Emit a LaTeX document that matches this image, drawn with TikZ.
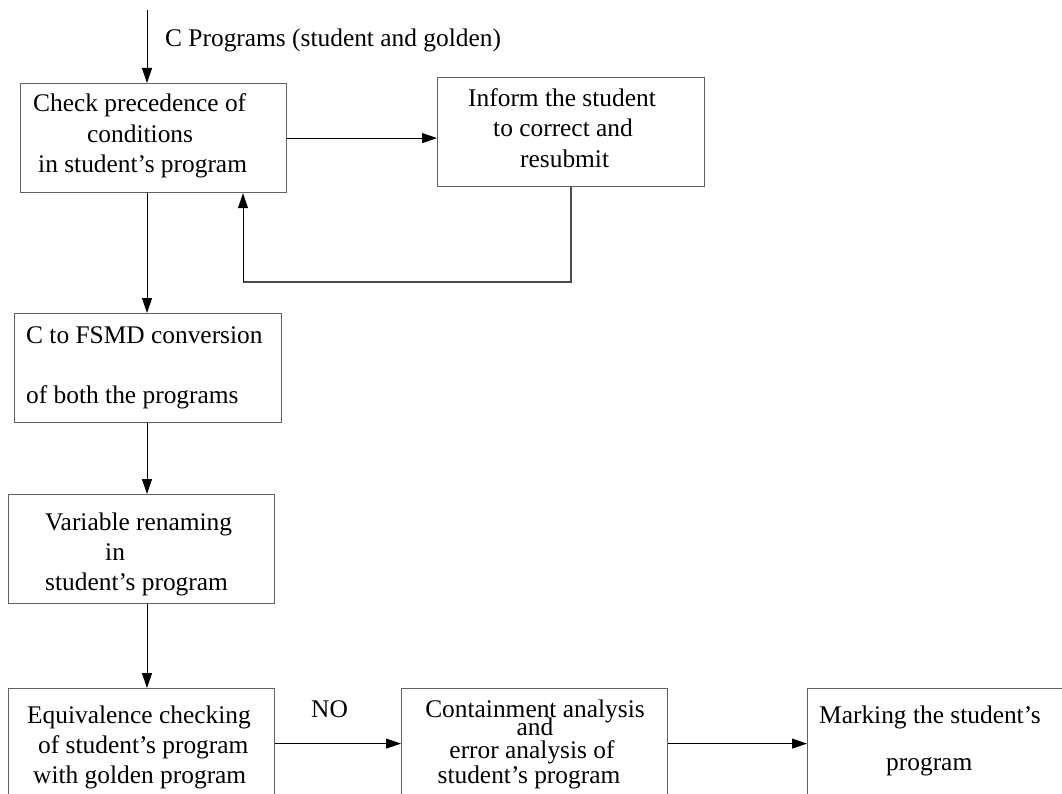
\documentclass[tikz,border=0pt]{standalone}
\usepackage{fontspec}
\setmainfont{Liberation Serif}
\usetikzlibrary{arrows.meta}
\begin{document}
\begin{tikzpicture}[x=1pt,y=-1pt,
  stage/.style={draw=black!62, line width=1.2pt, inner sep=0pt, anchor=north west},
  txt/.style={anchor=base west, inner sep=0pt, font=\fontsize{25.4}{31}\selectfont},
  arr/.style={draw=black, line width=1pt, -{Triangle[length=15pt,width=10pt]}},
  link/.style={draw=black!70, line width=1.1pt}]
\path[use as bounding box] (0,0) rectangle (1062,794);
\clip (0,0) rectangle (1062,794);

% process boxes
\node[stage, minimum width=266pt, minimum height=109pt] (check) at (20,83) {};
\node[stage, minimum width=267pt, minimum height=109pt] (inform) at (437,77) {};
\node[stage, minimum width=267pt, minimum height=109pt] (conv) at (14,313) {};
\node[stage, minimum width=266pt, minimum height=109pt] (rename) at (8,494) {};
\node[stage, minimum width=266pt, minimum height=110pt] (equiv) at (8,688) {};
\node[stage, minimum width=266pt, minimum height=110pt] (contain) at (401,688) {};
\node[stage, minimum width=300pt, minimum height=110pt] (mark) at (807,688) {};

% box texts
\node[txt] (t1a) at (33,112) {Check precedence of};
\node[txt] (t1b) at (87,143) {conditions};
\node[txt] (t1c) at (38,173) {in student’s program};

\node[txt] (t2a) at (468,107) {Inform the student};
\node[txt] (t2b) at (493,137) {to correct and};
\node[txt] (t2c) at (520,168) {resubmit};

\node[txt] (t3a) at (26,343) {C to FSMD conversion};
\node[txt] (t3b) at (26,403) {of both the programs};

\node[txt] (t4a) at (45,530) {Variable renaming};
\node[txt] (t4b) at (105,560) {in};
\node[txt] (t4c) at (45,590) {student’s program};

\node[txt] (t5a) at (27,723) {Equivalence checking};
\node[txt] (t5b) at (38,753) {of student’s program};
\node[txt] (t5c) at (33,783) {with golden program};

\node[txt, anchor=base] (t6a) at (535,717) {Containment analysis};
\node[txt, anchor=base] (t6b) at (535,735) {and};
\node[txt, anchor=base] (t6c) at (532,758) {error analysis of};
\node[txt, anchor=base] (t6d) at (529,783) {student’s program};

\node[txt] (t7a) at (819,723) {Marking the student’s};
\node[txt] (t7b) at (886,770) {program};

% labels on connectors
\node[txt] (inlabel) at (165,47) {C Programs (student and golden)};
\node[txt] (nolabel) at (311,717) {NO};

% connectors
\coordinate (spine) at (147,10);
\coordinate (loopR) at (571,0);
\coordinate (loopC) at (243,282);

\draw[arr] (spine) -- (spine |- check.north);
\draw[arr] (check.east) -- (check.east -| inform.west);
\draw[link] (loopR |- inform.south) |- (loopC);
\draw[arr] (loopC) -- (loopC |- check.south);
\draw[arr] (spine |- check.south) -- (spine |- conv.north);
\draw[arr] (spine |- conv.south) -- (spine |- rename.north);
\draw[arr] (spine |- rename.south) -- (spine |- equiv.north);
\draw[arr] (equiv.east) -- (equiv.east -| contain.west);
\draw[arr] (contain.east) -- (contain.east -| mark.west);
\end{tikzpicture}
\end{document}
